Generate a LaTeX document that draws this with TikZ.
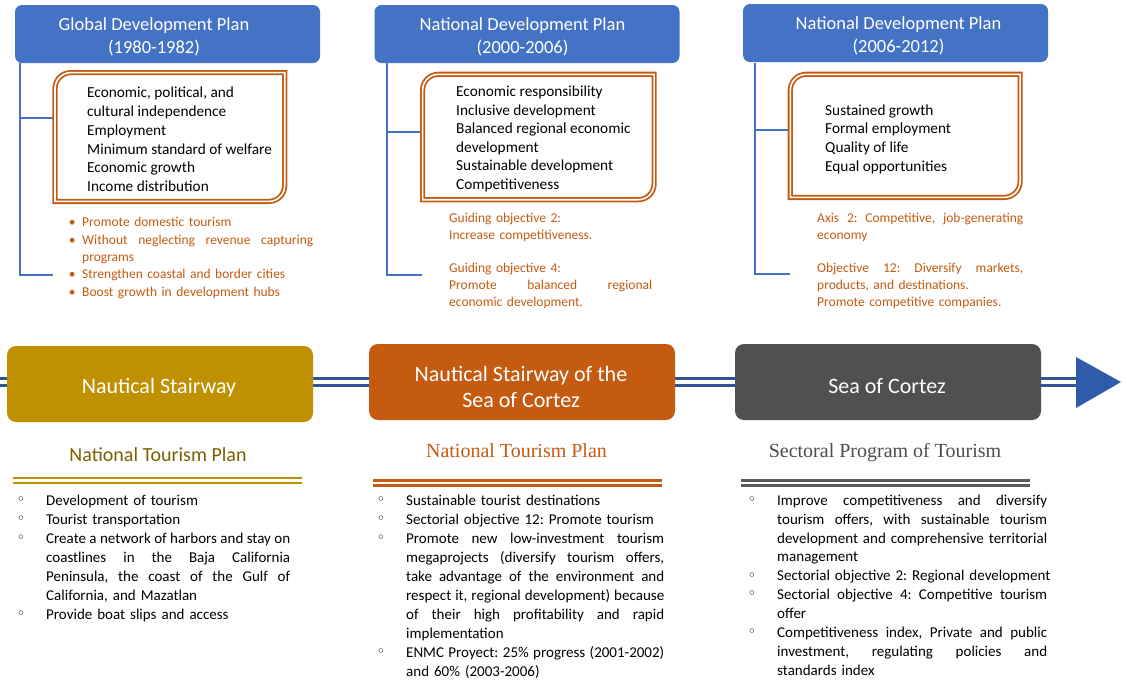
\documentclass[tikz,border=0pt]{standalone}
\usepackage{fontspec}
\setmainfont{Carlito}
\newfontfamily\timesf{Liberation Serif}
\newfontfamily\djv{DejaVu Sans}
\usetikzlibrary{calc}
\definecolor{hblue}{HTML}{4472C4}
\definecolor{tlblue}{HTML}{2F5597}
\definecolor{arrblue}{HTML}{2E5CAB}
\definecolor{gold}{HTML}{BF9000}
\definecolor{goldtxt}{HTML}{7F6000}
\definecolor{orng}{HTML}{C55A11}
\definecolor{dgray}{HTML}{505050}
\definecolor{graytxt}{HTML}{4D4D4D}
\definecolor{grayline}{HTML}{595959}
\frenchspacing
\hyphenpenalty=10000
\exhyphenpenalty=10000
\newcommand\jl[2]{\leavevmode\hbox to #1{\spaceskip=0.226em plus 1fil\relax #2}}
\newcommand\cbul{\leavevmode\llap{\makebox[29pt][l]{\raisebox{1.8pt}{\fontsize{12}{12}\djv\bfseries ◦}}}}
\newcommand\dbul{\leavevmode\llap{•\hspace{6.5pt}}}
\newcommand\dblbox[4]{\draw[obox] (#1,#4) -- (#1,#2+16) .. controls (#1,#2+7) and (#1+7,#2) .. (#1+16,#2) -- (#3,#2) -- (#3,#4-16) .. controls (#3,#4-7) and (#3-7,#4) .. (#3-16,#4) -- cycle;}
\begin{document}
\begin{tikzpicture}[x=1pt,y=-1pt,
  hbox/.style={fill=hblue, rounded corners=7pt, draw=none, inner sep=0pt, minimum width=305pt, minimum height=58pt},
  mbox/.style={rounded corners=9pt, draw=none, inner sep=0pt, minimum width=306pt, minimum height=76pt},
  htxt/.style={text=white, font=\fontsize{18.5}{23}\selectfont, align=center, inner sep=0pt, anchor=north},
  mtxt/.style={text=white, font=\fontsize{22}{26}\selectfont, align=center, inner sep=0pt},
  conn/.style={draw=hblue, line width=2pt},
  obox/.style={draw=orng, double=white, line width=1.8pt, double distance=1.6pt, line join=miter},
  tl/.style={draw=tlblue, double=white, line width=3pt, double distance=4pt},
  uline/.style={double=white, line width=2.2pt, double distance=2.8pt},
  otxt/.style={text=orng, inner sep=0pt, anchor=north west, align=left},
  ltxt/.style={text=black, inner sep=0pt, anchor=north west, align=left, font=\fontsize{15}{19}\selectfont}
]
\useasboundingbox (0,0) rectangle (1126,689);
\fill[white] (0,0) rectangle (1126,689);

% ---------- top header boxes ----------
\node[hbox] (hb1) at (167.5,34) {};
\node[hbox] (hb2) at (527,34) {};
\node[hbox] (hb3) at (895.5,33) {};
\node[htxt] (ht1) at (154,13.9) {\strut Global Development Plan\\(1980-1982)};
\node[htxt] (ht2) at (522.5,13.9) {\strut National Development Plan\\(2000-2006)};
\node[htxt] (ht3) at (898.5,12.9) {\strut National Development Plan\\(2006-2012)};

% ---------- connectors ----------
\coordinate (v1t) at (20,63);  \coordinate (v1b) at (20,275);  \coordinate (v1e) at (53,275);
\coordinate (v1s) at (20,118); \coordinate (o1w) at (53,118);
\coordinate (v2t) at (387,63); \coordinate (v2b) at (387,275); \coordinate (v2e) at (422,275);
\coordinate (v2s) at (387,132); \coordinate (o2w) at (420,132);
\coordinate (v3t) at (755,63); \coordinate (v3b) at (755,274); \coordinate (v3e) at (790,274);
\coordinate (v3s) at (755,130); \coordinate (o3w) at (788,130);
\draw[conn] (v1t) -- (v1b) -- (v1e);  \draw[conn] (v1s) -- (o1w);
\draw[conn] (v2t) -- (v2b) -- (v2e);  \draw[conn] (v2s) -- (o2w);
\draw[conn] (v3t) -- (v3b) -- (v3e);  \draw[conn] (v3s) -- (o3w);

% ---------- orange double boxes ----------
\dblbox{55}{72.6}{284.7}{201.4}
\dblbox{422.6}{74.3}{654.1}{199.7}
\dblbox{790.3}{74.3}{1020.1}{197.4}

\node[inner sep=0pt, anchor=north west, align=left, font=\fontsize{15.3}{18.8}\selectfont] (b1) at (87,84.3)
 {\strut Economic, political, and\\cultural independence\\Employment\\Minimum standard of welfare\\Economic growth\\Income distribution};
\node[inner sep=0pt, anchor=north west, align=left, font=\fontsize{15.3}{18.5}\selectfont] (b2) at (456,83.75)
 {\strut Economic responsibility\\Inclusive development\\Balanced regional economic\\development\\Sustainable development\\Competitiveness};
\node[inner sep=0pt, anchor=north west, align=left, font=\fontsize{15.3}{18.6}\selectfont] (b3) at (825,102)
 {\strut Sustained growth\\Formal employment\\Quality of life\\Equal opportunities};

% ---------- orange notes ----------
\node[otxt, text width=260pt, font=\fontsize{13.5}{17.3}\selectfont] (n1) at (82,214.6)
 {\strut\dbul Promote domestic tourism\\
  \dbul\jl{231pt}{Without neglecting revenue capturing}\\
  programs\\
  \dbul Strengthen coastal and border cities\\
  \dbul Boost growth in development hubs};
\node[otxt, text width=240pt, font=\fontsize{13.5}{16.7}\selectfont] (n2) at (449,211)
 {\strut Guiding objective 2:\\Increase competitiveness.\\[16.7pt]Guiding objective 4:\\\jl{203pt}{Promote balanced regional}\\economic development.};
\node[otxt, text width=240pt, font=\fontsize{13.5}{16.7}\selectfont] (n3) at (817,211)
 {\strut\jl{206pt}{Axis 2: Competitive, job-generating}\\economy\\[16.7pt]\jl{206pt}{Objective 12: Diversify markets,}\\products, and destinations.\\Promote competitive companies.};

% ---------- timeline ----------
\coordinate (tls) at (0,382);
\coordinate (tle) at (1077,382);
\draw[tl] (tls) -- (tle);
\fill[arrblue] (1076,357) -- (1121,382) -- (1076,408) -- cycle;

\node[mbox, fill=gold] (mA) at (160,384) {};
\node[mbox, fill=orng] (mB) at (522,382) {};
\node[mbox, fill=dgray] (mC) at (888,382) {};
\node[mtxt, anchor=base] (tA) at (159,393) {Nautical Stairway};
\node[mtxt, anchor=north] (tB) at (521,362.8) {\strut Nautical Stairway of the\\Sea of Cortez};
\node[mtxt, anchor=base] (tC) at (887,393) {Sea of Cortez};

% ---------- section headers ----------
\node[anchor=base, inner sep=0pt, text=goldtxt, font=\fontsize{20}{24}\selectfont] (sA) at (158,461) {National Tourism Plan};
\node[anchor=base, inner sep=0pt, text=orng, font=\timesf\fontsize{20}{24}\selectfont] (sB) at (516.5,457) {National Tourism Plan};
\node[anchor=base, inner sep=0pt, text=graytxt, font=\timesf\fontsize{20}{24}\selectfont] (sC) at (885,457) {Sectoral Program of Tourism};
\coordinate (uAs) at (13,480.5);  \coordinate (uAe) at (302,480.5);
\coordinate (uBs) at (373,483);   \coordinate (uBe) at (662,483);
\coordinate (uCs) at (741,483);   \coordinate (uCe) at (1030,483);
\draw[uline, draw=gold] (uAs) -- (uAe);
\draw[uline, draw=orng] (uBs) -- (uBe);
\draw[uline, draw=grayline] (uCs) -- (uCe);

% ---------- bottom lists ----------
\node[ltxt, text width=300pt] (lA) at (46,491.7)
 {\strut\cbul Development of tourism\\
  \cbul Tourist transportation\\
  \cbul\jl{244pt}{Create a network of harbors and stay on}\\
  \jl{244pt}{coastlines in the Baja California}\\
  \jl{244pt}{Peninsula, the coast of the Gulf of}\\
  California, and Mazatlan\\
  \cbul Provide boat slips and access};
\node[ltxt, text width=300pt] (lB) at (406,491.7)
 {\strut\cbul Sustainable tourist destinations\\
  \cbul Sectorial objective 12: Promote tourism\\
  \cbul\jl{258pt}{Promote new low-investment tourism}\\
  \jl{258pt}{megaprojects (diversify tourism offers,}\\
  \jl{258pt}{take advantage of the environment and}\\
  \jl{258pt}{respect it, regional development) because}\\
  \jl{258pt}{of their high profitability and rapid}\\
  implementation\\
  \cbul\jl{258pt}{ENMC Proyect: 25\% progress (2001-2002)}\\
  and 60\% (2003-2006)};
\node[ltxt, text width=320pt, font=\fontsize{15}{18.9}\selectfont] (lC) at (777,491.8)
 {\strut\cbul\jl{270pt}{Improve competitiveness and diversify}\\
  \jl{270pt}{tourism offers, with sustainable tourism}\\
  \jl{270pt}{development and comprehensive territorial}\\
  management\\
  \cbul Sectorial objective 2: Regional development\\
  \cbul\jl{270pt}{Sectorial objective 4: Competitive tourism}\\
  offer\\
  \cbul\jl{270pt}{Competitiveness index, Private and public}\\
  \jl{270pt}{investment, regulating policies and}\\
  standards index};
\end{tikzpicture}
\end{document}
